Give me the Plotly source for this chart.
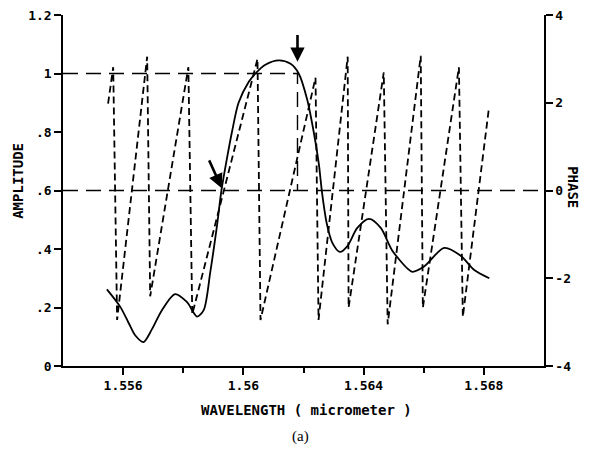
import plotly.graph_objects as go

# ---- data ----
amp_wl = [1.55546, 1.5559, 1.55618, 1.5564, 1.55668, 1.55696, 1.55729, 1.55773, 1.55812,
          1.55846, 1.55868, 1.5589, 1.55912, 1.55927, 1.55946, 1.55962, 1.55984, 1.56018,
          1.5604, 1.56073, 1.56118, 1.56157, 1.56184, 1.56212, 1.56234, 1.56251, 1.56262,
          1.56277, 1.56296, 1.56321, 1.56346, 1.56379, 1.56418, 1.56457, 1.56495, 1.56546,
          1.56562, 1.56601, 1.56668, 1.56723, 1.56768, 1.56818]
amp_val = [0.262, 0.203, 0.148, 0.105, 0.082, 0.126, 0.191, 0.246, 0.219,
           0.169, 0.191, 0.322, 0.478, 0.6, 0.713, 0.8, 0.9, 0.972,
           1.0, 1.03, 1.045, 1.033, 1.0, 0.912, 0.8, 0.691, 0.59,
           0.489, 0.421, 0.39, 0.41, 0.472, 0.503, 0.472, 0.395, 0.333,
           0.322, 0.34, 0.404, 0.377, 0.328, 0.3]

phase_wl = [1.5555, 1.55567, 1.5558, 1.5568, 1.5569, 1.55817, 1.5583, 1.56047, 1.56057,
            1.5624, 1.5625, 1.56347, 1.5635, 1.56467, 1.5648, 1.5659, 1.56597, 1.56717,
            1.5673, 1.56817]
phase_val = [1.98, 2.81, -2.95, 3.05, -2.41, 2.81, -2.82, 3.0, -2.95,
             2.57, -2.95, 3.05, -2.67, 2.69, -3.05, 3.07, -2.67, 2.81,
             -2.88, 1.89]

ref_amps = [1.0, 0.6]
mark_wl = 1.5618
x_range = [1.554, 1.570]

x_ticks = [1.556, 1.56, 1.564, 1.568]
x_ticktext = ["1.556", "1.56", "1.564", "1.568"]
x_minor = [1.558, 1.562, 1.566]
amp_ticks = [0, 0.2, 0.4, 0.6, 0.8, 1.0, 1.2]
amp_ticktext = ["0", ".2", ".4", ".6", ".8", "1", "1.2"]
phase_ticks = [-4, -2, 0, 2, 4]
phase_ticktext = ["-4", "-2", "0", "2", "4"]

# arrows (tail -> tip) in data coordinates
arrow1 = dict(tail=(1.5618, 1.137), tip=(1.5618, 1.04))
arrow2 = dict(tail=(1.55884, 0.708), tip=(1.55928, 0.608))

FONT = "DejaVu Sans Mono"

fig = go.Figure()

# reference dashed lines
fig.add_trace(go.Scatter(x=[x_range[0], mark_wl, mark_wl], y=[ref_amps[0], ref_amps[0], ref_amps[1]],
                         mode="lines", line=dict(color="black", width=1.4, dash="15px,8px"),
                         hoverinfo="skip"))
fig.add_trace(go.Scatter(x=[x_range[0], x_range[1]], y=[ref_amps[1], ref_amps[1]],
                         mode="lines", line=dict(color="black", width=1.4, dash="15px,8px"),
                         hoverinfo="skip"))

# amplitude
fig.add_trace(go.Scatter(x=amp_wl, y=amp_val, mode="lines",
                         line=dict(color="black", width=1.8, shape="spline", smoothing=0.8)))

# phase
fig.add_trace(go.Scatter(x=phase_wl, y=phase_val, mode="lines", yaxis="y2",
                         line=dict(color="black", width=1.8, dash="7px,4px")))

for a in (arrow1, arrow2):
    fig.add_annotation(x=a["tip"][0], y=a["tip"][1], ax=a["tail"][0], ay=a["tail"][1],
                       xref="x", yref="y", axref="x", ayref="y", text="",
                       showarrow=True, arrowhead=2, arrowsize=1.1, arrowwidth=2.6,
                       arrowcolor="black")

tickfont = dict(family=FONT, size=13, color="black", weight="bold")
common = dict(showgrid=False, zeroline=False, showline=True, linecolor="black", linewidth=1.5,
              ticks="outside", ticklen=7, tickwidth=1.5, tickcolor="black", tickfont=tickfont,
              automargin=False, tickmode="array", ticklabeloverflow="allow")

fig.update_layout(
    template="none",
    width=581, height=437,
    margin=dict(l=55, r=45, t=7, b=79, autoexpand=False),
    paper_bgcolor="white", plot_bgcolor="white",
    showlegend=False,
    xaxis=dict(range=x_range, tickvals=x_ticks, ticktext=x_ticktext,
               minor=dict(tickmode="array", tickvals=x_minor, ticks="outside", ticklen=5,
                          tickwidth=1.5, tickcolor="black"), **common),
    yaxis=dict(range=[0, 1.2], tickvals=amp_ticks, ticktext=amp_ticktext, **common),
    yaxis2=dict(range=[-4, 4], overlaying="y", side="right",
                tickvals=phase_ticks, ticktext=phase_ticktext, **common),
)

titlefont = dict(family=FONT, size=14, color="black", weight="bold")
fig.add_annotation(text="AMPLITUDE", xref="paper", yref="paper", x=-0.094, y=0.527,
                   textangle=-90, showarrow=False, font=titlefont,
                   xanchor="center", yanchor="middle")
fig.add_annotation(text="PHASE", xref="paper", yref="paper", x=1.06, y=0.51,
                   textangle=90, showarrow=False, font=titlefont,
                   xanchor="center", yanchor="middle")
fig.add_annotation(text="WAVELENGTH ( micrometer )", xref="paper", yref="paper", x=0.507, y=-0.125,
                   showarrow=False, font=titlefont, xanchor="center", yanchor="middle")
fig.add_annotation(text="(a)", xref="paper", yref="paper", x=0.493, y=-0.200,
                   showarrow=False, font=dict(family="Liberation Serif", size=15, color="black"),
                   xanchor="center", yanchor="middle")

fig.write_html("out.html")
